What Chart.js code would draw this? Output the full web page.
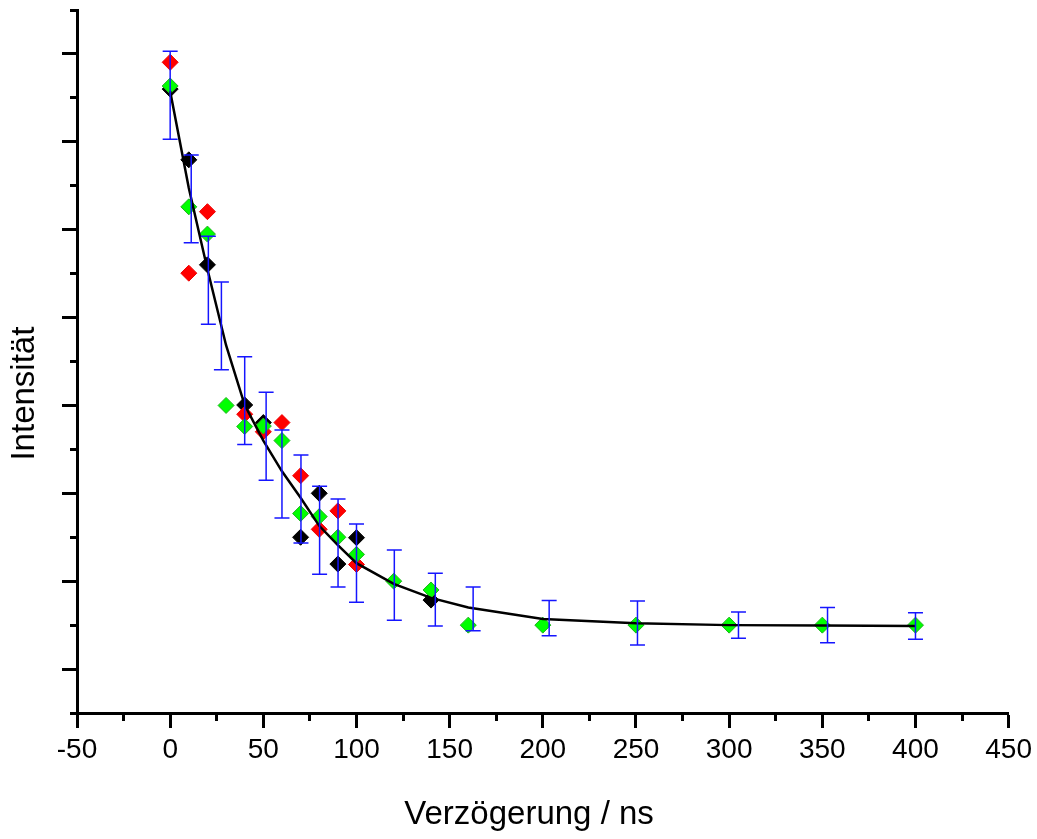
<!DOCTYPE html>
<html>
<head>
<meta charset="utf-8">
<title>Intensität</title>
<script src="https://cdn.jsdelivr.net/npm/chart.js@4.4.0/dist/chart.umd.min.js"></script>
<style>
  body { margin: 0; background: #fff; }
  #box { width: 1037px; height: 839px; }
</style>
</head>
<body>
<div id="box"><canvas id="grafica"></canvas></div>
<script>
// Messreihen (Intensität in willk. Einheiten, x = Verzögerung in ns)
var schwarzX = [0, 10, 20, 40, 50, 70, 80, 90, 100, 140];
var schwarzY = [14.20, 12.59, 10.20, 7.01, 6.61, 4.00, 5.00, 3.39, 3.99, 2.57];

var rotX = [0, 10, 20, 40, 50, 60, 70, 80, 90, 100];
var rotY = [14.81, 10.01, 11.41, 6.80, 6.40, 6.61, 5.40, 4.18, 4.60, 3.38];

var gruenX = [0, 10, 20, 30, 40, 50, 60, 70, 80, 90, 100, 120, 140, 160, 200, 250, 300, 350, 400];
var gruenY = [14.27, 11.52, 10.90, 7.00, 6.52, 6.53, 6.20, 4.54, 4.47, 4.00, 3.61, 3.00, 2.80, 2.00, 2.00, 2.00, 2.00, 2.00, 2.00];

// Mittelwerte mit Fehlerbalken
var fehlerX = [0, 11.3, 20.5, 27.5, 40, 51.5, 60, 70.2, 80.2, 90.1, 100, 120.3, 142.3, 162.6, 203.4, 250.8, 305, 352.8, 400];
var fehlerY = [14.06, 11.70, 9.85, 8.81, 7.11, 6.30, 5.44, 4.87, 4.16, 3.87, 3.41, 2.91, 2.58, 2.37, 2.16, 2.05, 2.00, 2.00, 1.98];
var fehlerD = [1.0, 1.0, 1.0, 1.0, 1.0, 1.0, 1.0, 1.0, 1.0, 1.0, 0.89, 0.80, 0.60, 0.50, 0.40, 0.50, 0.30, 0.40, 0.30];

// Anpassungskurve
var fitX = [0, 10, 20, 30, 40, 50, 60, 70, 80, 90, 100, 120, 140, 160, 200, 250, 300, 350, 400];
var fitY = [14.15, 11.95, 10.10, 8.37, 7.01, 6.20, 5.50, 4.90, 4.26, 3.82, 3.41, 2.94, 2.62, 2.40, 2.14, 2.04, 2.00, 1.99, 1.98];

var xMin = -50, xMax = 450, xSchritt = 25;
var yMin = 0, yMax = 16;

var schrift = "Arial, 'Liberation Sans', sans-serif";

function puntos(xs, ys) {
    var arr = [];
    for (var i = 0; i < xs.length; i++) {
        arr.push({x: xs[i], y: ys[i]});
    }
    return arr;
}

function balken() {
    // unten, oben, dann Lücke damit die Linie unterbrochen wird
    var arr = [];
    for (var i = 0; i < fehlerX.length; i++) {
        arr.push({x: fehlerX[i], y: fehlerY[i] - fehlerD[i]});
        arr.push({x: fehlerX[i], y: fehlerY[i] + fehlerD[i]});
        arr.push({x: fehlerX[i], y: null});
    }
    return arr;
}

function raute(farbe, rand, xs, ys, ord) {
    return {
        data: puntos(xs, ys),
        order: ord,
        pointStyle: 'rectRot',
        pointRadius: 8,
        pointBorderWidth: 1,
        backgroundColor: farbe,
        borderColor: rand
    };
}

var ctx = document.getElementById("grafica").getContext("2d");

var chart = new Chart(ctx, {
    type: 'scatter',
    data: {
        datasets: [
            {
                data: balken(),
                order: 0,
                showLine: true,
                spanGaps: false,
                borderColor: '#1515ff',
                borderWidth: 1.5,
                pointStyle: 'line',
                pointRadius: 7.5,
                pointBorderWidth: 1.5,
                pointBorderColor: '#1515ff'
            },
            {
                data: puntos(fitX, fitY),
                order: 1,
                showLine: true,
                borderColor: '#000',
                borderWidth: 2.5,
                pointRadius: 0,
                tension: 0
            },
            raute('#00ff00', '#20b020', gruenX, gruenY, 2),
            raute('#ff0000', '#ee0000', rotX, rotY, 3),
            raute('#000000', '#000000', schwarzX, schwarzY, 4)
        ]
    },
    options: {
        responsive: true,
        maintainAspectRatio: false,
        animation: false,
        devicePixelRatio: 1,
        events: [],
        layout: { padding: { left: 0, right: 28, top: 10, bottom: 0 } },
        plugins: {
            legend: { display: false },
            tooltip: { enabled: false }
        },
        scales: {
            x: {
                type: 'linear',
                min: xMin,
                max: xMax,
                border: { color: '#000', width: 3 },
                grid: {
                    drawOnChartArea: false,
                    tickLength: 15,
                    tickWidth: 3,
                    tickColor: '#000',
                    // kleine Striche bei 25, 75, ...
                    tickBorderDash: function (c) {
                        return c.tick && c.tick.value % 50 !== 0 ? [6, 50] : [];
                    }
                },
                ticks: {
                    stepSize: xSchritt,
                    autoSkip: false,
                    maxRotation: 0,
                    padding: 5,
                    color: '#000',
                    font: { family: schrift, size: 28 },
                    callback: function (v) { return v % 50 === 0 ? v : ''; }
                },
                title: {
                    display: true,
                    text: 'Verzögerung / ns   ',
                    color: '#000',
                    font: { family: schrift, size: 33 },
                    padding: { top: 0, bottom: 4 }
                },
                afterFit: function (s) { s.height = 126; }
            },
            y: {
                type: 'linear',
                min: yMin,
                max: yMax,
                border: { color: '#000', width: 3 },
                grid: {
                    drawOnChartArea: false,
                    tickLength: 15,
                    tickWidth: 3,
                    tickColor: '#000',
                    tickBorderDash: function (c) {
                        return c.tick && c.tick.value % 2 === 0 ? [6, 50] : [];
                    },
                    tickBorderDashOffset: function (c) {
                        return c.tick && c.tick.value % 2 === 0 ? 48 : 0;
                    }
                },
                ticks: { stepSize: 1, display: false },
                title: {
                    display: true,
                    text: 'Intensität       ',
                    color: '#000',
                    font: { family: schrift, size: 33 },
                    padding: { top: 5.5, bottom: 0 }
                },
                afterFit: function (s) { s.width = 77; }
            }
        }
    }
});
</script>
</body>
</html>
